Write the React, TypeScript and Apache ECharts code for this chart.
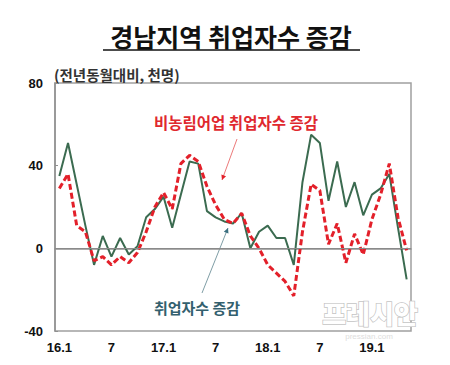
import React, { useEffect, useRef } from "react";
import * as echarts from "echarts";

const categories = [
  "16.1","16.2","16.3","16.4","16.5","16.6","16.7","16.8","16.9","16.10","16.11","16.12",
  "17.1","17.2","17.3","17.4","17.5","17.6","17.7","17.8","17.9","17.10","17.11","17.12",
  "18.1","18.2","18.3","18.4","18.5","18.6","18.7","18.8","18.9","18.10","18.11","18.12",
  "19.1","19.2","19.3","19.4","19.5",
];

// 취업자수 증감 (천명)
const totalChange = [
  35, 51, 31, 11, -8, 6, -4, 5, -3, 1, 15, 19,
  25, 10, 26, 42, 41, 18, 15, 13, 12, 17, 0, 8,
  11, 5, 5, -8, 32, 55, 51, 23, 42, 20, 32, 16,
  26, 29, 36, 10, -15,
];

// 비농림어업 취업자수 증감 (천명)
const nonFarmChange = [
  29, 36, 11, 8, -6, -4, -8, -4, -7, -2, 8, 20,
  27, 19, 41, 45, 42, 30, 21, 14, 12, 17, 6, 0,
  -8, -12, -16, -23, 8, 31, 28, 2, 12, -7, 7, -3,
  14, 26, 41, 15, -1,
];

const yTicks = [-40, 0, 40, 80];

const FONT = "'Liberation Sans', 'Noto Sans CJK KR', sans-serif";
const KFONT = "'Noto Sans CJK KR', 'Liberation Sans', sans-serif";

function arrowHead(x1: number, y1: number, x2: number, y2: number, len: number, half: number) {
  const dx = x2 - x1, dy = y2 - y1;
  const L = Math.sqrt(dx * dx + dy * dy);
  const ux = dx / L, uy = dy / L;
  const bx = x2 - ux * len, by = y2 - uy * len;
  return [
    [x2, y2],
    [bx - uy * half, by + ux * half],
    [bx + uy * half, by - ux * half],
  ];
}

export default function App() {
  const ref = useRef<HTMLDivElement>(null);
  useEffect(() => {
    if (!ref.current) return;
    const chart = echarts.init(ref.current, null, { renderer: "svg" });
    const redA = [237, 139, 222, 180];
    const grnA = [202, 293, 228, 228];
    chart.setOption({
      animation: false,
      backgroundColor: "#fff",
      grid: { left: 55, right: 39, top: 83, bottom: 34, show: true, borderColor: "#a0a0a0", borderWidth: 1.5 },
      xAxis: {
        type: "category",
        data: categories,
        boundaryGap: true,
        axisLine: { show: true, lineStyle: { color: "#909090", width: 1.5 } },
        axisTick: { show: false },
        axisLabel: {
          interval: 5,
          margin: 10,
          fontFamily: FONT,
          fontWeight: "bold",
          fontSize: 13,
          color: "#111",
          formatter: (v: string) => {
            const [yy, mm] = v.split(".");
            return mm === "1" ? `${yy}.1` : mm;
          },
        },
      },
      yAxis: {
        type: "value",
        min: yTicks[0],
        max: yTicks[yTicks.length - 1],
        interval: 40,
        axisLine: { show: true, lineStyle: { color: "#909090", width: 1.5 } },
        axisTick: { show: true, inside: true, length: 3, lineStyle: { color: "#909090" } },
        splitLine: { show: false },
        axisLabel: { margin: 12, fontFamily: FONT, fontWeight: "bold", fontSize: 13, color: "#111" },
      },
      series: [
        {
          type: "line",
          name: "취업자수 증감",
          data: totalChange,
          symbol: "none",
          lineStyle: { color: "#3b6b50", width: 2 },
          z: 3,
          markLine: {
            silent: true,
            symbol: "none",
            label: { show: false },
            lineStyle: { color: "#8a8a8a", width: 1.2, type: "solid" },
            data: [{ yAxis: 0 }],
          },
        },
        {
          type: "line",
          name: "비농림어업 취업자수 증감",
          data: nonFarmChange,
          symbol: "none",
          lineStyle: { color: "#e3202a", width: 3, type: [6, 3] },
          z: 4,
        },
      ],
      graphic: [
        {
          type: "text",
          x: 231, y: 36,
          style: {
            text: "경남지역 취업자수 증감",
            fontFamily: KFONT, fontSize: 25, fontWeight: "bold", fill: "#111",
            align: "center", verticalAlign: "middle",
          },
        },
        { type: "line", shape: { x1: 103, y1: 50, x2: 360, y2: 50 }, style: { stroke: "#111", lineWidth: 1.5 } },
        {
          type: "text",
          x: 54, y: 74,
          style: {
            text: "(전년동월대비, 천명)",
            fontFamily: KFONT, fontSize: 14.5, fontWeight: "bold", fill: "#333",
            align: "left", verticalAlign: "middle",
          },
        },
        {
          type: "text",
          x: 236, y: 122,
          style: {
            text: "비농림어업 취업자수 증감",
            fontFamily: KFONT, fontSize: 15.5, fontWeight: "bold", fill: "#e0282e",
            align: "center", verticalAlign: "middle",
          },
        },
        {
          type: "text",
          x: 197, y: 307,
          style: {
            text: "취업자수 증감",
            fontFamily: KFONT, fontSize: 15, fontWeight: "bold", fill: "#33606e",
            align: "center", verticalAlign: "middle",
          },
        },
        { type: "line", shape: { x1: redA[0], y1: redA[1], x2: redA[2], y2: redA[3] }, style: { stroke: "#ec7a7a", lineWidth: 1 } },
        { type: "polygon", shape: { points: arrowHead(redA[0], redA[1], redA[2], redA[3], 5, 2.5) }, style: { fill: "#e3202a" } },
        { type: "line", shape: { x1: grnA[0], y1: grnA[1], x2: grnA[2], y2: grnA[3] }, style: { stroke: "#7f9ea6", lineWidth: 1 } },
        { type: "polygon", shape: { points: arrowHead(grnA[0], grnA[1], grnA[2], grnA[3], 5, 2.5) }, style: { fill: "#3a6f80" } },
        {
          type: "text",
          x: 370, y: 312, z: 100,
          style: {
            text: "프레시안",
            fontFamily: KFONT, fontSize: 26, fontWeight: 900, fill: "#ffffff",
            stroke: "#c4c4c4", lineWidth: 1.5,
            align: "center", verticalAlign: "middle",
          },
        },
        {
          type: "text",
          x: 369, y: 336, z: 100,
          style: {
            text: "pressian.com",
            fontFamily: FONT, fontSize: 8, fill: "#dddddd",
            align: "center", verticalAlign: "middle",
          },
        },
      ],
    });
    return () => chart.dispose();
  }, []);
  return <div ref={ref} style={{ width: 450, height: 365, position: "absolute", left: 0, top: 0 }} />;
}
